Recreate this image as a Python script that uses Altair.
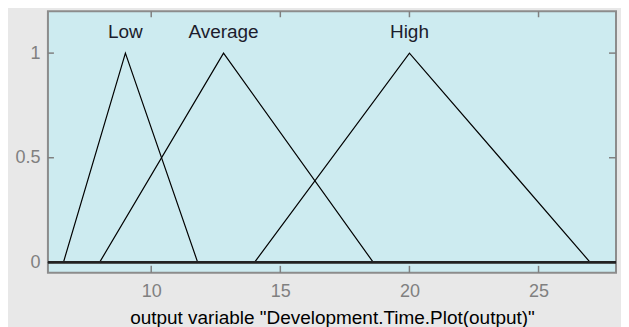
import altair as alt
import pandas as pd

# ---- data ----
x_range = [6, 28]
y_range = [-0.05, 1.2]
mf_names = ["Low", "Average", "High"]
mf_left = [6.6, 8.0, 14.0]
mf_peak = [9.0, 12.8, 20.0]
mf_right = [11.8, 18.6, 27.0]
x_ticks = [10, 15, 20, 25]
y_ticks = [0, 0.5, 1]
label_y = 1.1
x_title = 'output variable "Development.Time.Plot(output)"'

# ---- build tables ----
rows = []
for n, a, b, c in zip(mf_names, mf_left, mf_peak, mf_right):
    pts = [(x_range[0], 0), (a, 0), (b, 1), (c, 0), (x_range[1], 0)]
    for i, (xv, yv) in enumerate(pts):
        rows.append({"mf": n, "x": xv, "y": yv, "order": i})
mf_df = pd.DataFrame(rows)
lab_df = pd.DataFrame({"mf": mf_names, "x": mf_peak, "y": [label_y] * len(mf_names)})
xt_df = pd.DataFrame({"x": x_ticks})
yt_df = pd.DataFrame({"y": y_ticks})
zero_df = pd.DataFrame({"y": [0]})

W, H = 569, 262
FONT = "Liberation Sans"
GREY = "#808080"

xs = alt.Scale(domain=x_range, nice=False, zero=False)
ys = alt.Scale(domain=y_range, nice=False, zero=False)

x_axis = alt.Axis(
    values=x_ticks, format="~g", ticks=False, domain=False, grid=False,
    labelFont=FONT, labelFontSize=18, labelColor=GREY, labelPadding=10, labelFlush=False,
    title=x_title, titleFont=FONT, titleFontSize=19, titleFontWeight="normal",
    titleColor="black", titleBaseline="alphabetic", titleY=51)
y_axis = alt.Axis(
    values=y_ticks, format="~g", ticks=False, domain=False, grid=False,
    labelFont=FONT, labelFontSize=18, labelColor=GREY, labelPadding=8, labelFlush=False,
    title=None)

X = alt.X("x:Q", scale=xs, axis=x_axis, title=x_title)
Y = alt.Y("y:Q", scale=ys, axis=y_axis, title=None)

lines = alt.Chart(mf_df).mark_line(color="black", strokeWidth=1.2).encode(
    x=X, y=Y, detail="mf:N", order="order:Q",
)

zero_line = alt.Chart(zero_df).mark_rule(color="#222222", strokeWidth=2.6).encode(y=Y)

labels = alt.Chart(lab_df).mark_text(
    font=FONT, fontSize=19, color="#1c1c2c", baseline="middle", align="center"
).encode(x=X, y=Y, text="mf:N")

tick_style = dict(color=GREY, strokeWidth=1.5)
bottom_ticks = alt.Chart(xt_df).mark_rule(**tick_style).encode(
    x=X, y=alt.value(H), y2=alt.value(H - 7))
top_ticks = alt.Chart(xt_df).mark_rule(**tick_style).encode(
    x=X, y=alt.value(0), y2=alt.value(6))
left_ticks = alt.Chart(yt_df).mark_rule(**tick_style).encode(
    y=Y, x=alt.value(0), x2=alt.value(6))
right_ticks = alt.Chart(yt_df).mark_rule(**tick_style).encode(
    y=Y, x=alt.value(W - 7), x2=alt.value(W))

chart = alt.layer(
    lines, labels, bottom_ticks, top_ticks, left_ticks, right_ticks, zero_line
).properties(
    width=W, height=H,
    autosize=alt.AutoSizeParams(type="none"),
    padding={"left": 40, "top": 3, "right": 5, "bottom": 54},
    background="#E8E8E8",
).configure_view(
    fill="#CDEBF0", stroke="#8C8C8C", strokeWidth=2
)

chart.save("out.html", embed_options={"renderer": "svg", "actions": False})
